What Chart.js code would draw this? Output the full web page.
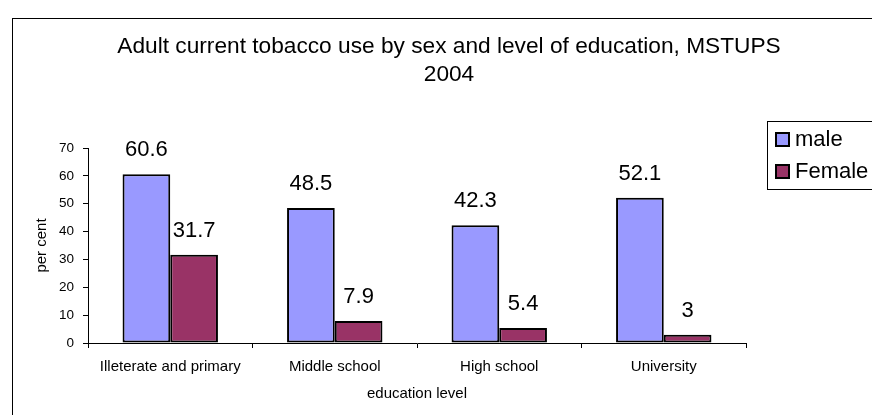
<!DOCTYPE html>
<html>
<head>
<meta charset="utf-8">
<script src="https://cdn.jsdelivr.net/npm/chart.js@4.4.0/dist/chart.umd.min.js"></script>
<style>
    html, body { margin: 0; padding: 0; background: #fff; }
    #wrap { width: 872px; height: 415px; }
</style>
</head>
<body>
<div id="wrap"><canvas id="tobaccoChart" width="872" height="415"></canvas></div>
<script>
const levels = ['Illeterate and primary', 'Middle school', 'High school', 'University'];
const maleValues = [60.6, 48.5, 42.3, 52.1];
const femaleValues = [31.7, 7.9, 5.4, 3];
const yTicks = [0, 10, 20, 30, 40, 50, 60, 70];
const seriesNames = ['male', 'Female'];
const titleLines = ['Adult current tobacco use by sex and level of education, MSTUPS', '2004'];

const FONT = "'Liberation Sans', Arial, sans-serif";

// white page + outer frame (runs off the right / bottom edge like the source)
const framePlugin = {
    id: 'frame',
    beforeDraw(chart) {
        const ctx = chart.ctx;
        ctx.save();
        ctx.fillStyle = '#fff';
        ctx.fillRect(0, 0, chart.width, chart.height);
        ctx.strokeStyle = '#000';
        ctx.lineWidth = 1;
        ctx.strokeRect(12.5, 18.5, chart.width + 20, chart.height + 20);
        ctx.restore();
    }
};

// value labels above each bar
const valueLabels = {
    id: 'valueLabels',
    afterDatasetsDraw(chart) {
        const ctx = chart.ctx;
        ctx.save();
        ctx.font = '22px ' + FONT;
        ctx.fillStyle = '#000';
        ctx.textAlign = 'center';
        ctx.textBaseline = 'alphabetic';
        chart.data.datasets.forEach(function (ds, i) {
            chart.getDatasetMeta(i).data.forEach(function (bar, j) {
                ctx.fillText(String(ds.data[j]), bar.x, bar.y - 18);
            });
        });
        ctx.restore();
    }
};

// title + boxed legend
const headerAndLegend = {
    id: 'headerAndLegend',
    afterDraw(chart) {
        const ctx = chart.ctx;
        ctx.save();
        ctx.fillStyle = '#000';
        ctx.font = '22.7px ' + FONT;
        ctx.textAlign = 'center';
        ctx.textBaseline = 'alphabetic';
        ctx.fillText(titleLines[0], 449, 53);
        ctx.fillText(titleLines[1], 449, 81);

        // legend box
        const lx = 767, ly = 121, lh = 68;
        ctx.strokeStyle = '#000';
        ctx.lineWidth = 1;
        ctx.strokeRect(lx + 0.5, ly + 0.5, 200, lh);
        ctx.font = '22px ' + FONT;
        ctx.textAlign = 'left';
        ctx.textBaseline = 'middle';
        chart.data.datasets.forEach(function (ds, i) {
            const cy = 139 + i * 32;
            ctx.fillStyle = ds.backgroundColor;
            ctx.fillRect(776, cy - 6, 13, 13);
            ctx.lineWidth = 2;
            ctx.strokeRect(776, cy - 6, 13, 13);
            ctx.fillStyle = '#000';
            ctx.fillText(ds.label, 795, cy + 1);
        });
        ctx.restore();
    }
};

const ctx = document.getElementById('tobaccoChart');

const tobaccoChart = new Chart(ctx.getContext('2d'), {
    type: 'bar',
    data: {
        labels: levels,
        datasets: [{
            label: seriesNames[0],
            data: maleValues,
            backgroundColor: '#9999ff',
            borderColor: '#000',
            borderWidth: 2,
            borderSkipped: false
        }, {
            label: seriesNames[1],
            data: femaleValues,
            backgroundColor: '#993366',
            borderColor: '#000',
            borderWidth: 2,
            borderSkipped: false
        }]
    },
    options: {
        responsive: false,
        animation: false,
        devicePixelRatio: 1,
        layout: {
            padding: { left: 12, top: 148, right: 126, bottom: 12 }
        },
        datasets: {
            bar: {
                categoryPercentage: 0.58,
                barPercentage: 1
            }
        },
        plugins: {
            legend: { display: false },
            title: { display: false },
            tooltip: { enabled: false }
        },
        scales: {
            x: {
                offset: true,
                afterFit(scale) { scale.height = 60; },
                grid: {
                    offset: true,
                    drawOnChartArea: false,
                    drawTicks: true,
                    tickLength: 5,
                    color: '#000'
                },
                border: { color: '#000', width: 1 },
                ticks: {
                    color: '#000',
                    padding: 10,
                    maxRotation: 0,
                    font: { family: FONT, size: 15 }
                },
                title: {
                    display: true,
                    text: 'education level',
                    color: '#000',
                    padding: { top: 0, bottom: 0 },
                    font: { family: FONT, size: 15 }
                }
            },
            y: {
                min: yTicks[0],
                max: yTicks[yTicks.length - 1],
                afterFit(scale) { scale.width = 76; },
                afterBuildTicks(scale) {
                    scale.ticks = yTicks.map(function (v) { return { value: v }; });
                },
                grid: {
                    drawOnChartArea: false,
                    drawTicks: true,
                    tickLength: 5,
                    color: '#000'
                },
                border: { color: '#000', width: 1 },
                ticks: {
                    color: '#000',
                    padding: 9,
                    font: { family: FONT, size: 13.5 }
                },
                title: {
                    display: true,
                    text: 'per cent',
                    color: '#000',
                    padding: { top: 21, bottom: 0 },
                    font: { family: FONT, size: 15 }
                }
            }
        }
    },
    plugins: [framePlugin, valueLabels, headerAndLegend]
});
</script>
</body>
</html>
